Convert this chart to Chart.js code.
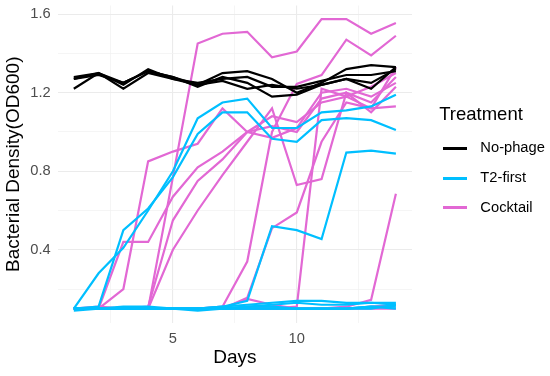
<!DOCTYPE html>
<html>
<head>
<meta charset="utf-8">
<script src="https://cdn.jsdelivr.net/npm/chart.js@4.4.1/dist/chart.umd.min.js"></script>
<style>
  html, body { margin: 0; padding: 0; background: #fff; }
  #wrap { width: 550px; height: 376px; }
</style>
</head>
<body>
<div id="wrap"><canvas id="myChart" width="550" height="376"></canvas></div>
<script>
// Dias da experiência e valores de OD600
const days = [1, 2, 3, 4, 5, 6, 7, 8, 9, 10, 11, 12, 13, 14];

// No-phage
const noPhage1 = [1.27, 1.30, 1.25, 1.31, 1.28, 1.24, 1.30, 1.31, 1.27, 1.20, 1.25, 1.32, 1.34, 1.33];
const noPhage2 = [1.22, 1.30, 1.22, 1.30, 1.27, 1.25, 1.27, 1.28, 1.23, 1.23, 1.26, 1.29, 1.29, 1.31];
const noPhage3 = [1.27, 1.29, 1.25, 1.31, 1.28, 1.23, 1.28, 1.25, 1.18, 1.19, 1.24, 1.27, 1.22, 1.33];
const noPhage4 = [1.28, 1.30, 1.24, 1.32, 1.27, 1.24, 1.26, 1.22, 1.24, 1.22, 1.24, 1.27, 1.25, 1.32];

// T2-first
const t2First1 = [0.10, 0.28, 0.41, 0.60, 0.80, 1.07, 1.15, 1.17, 1.02, 1.02, 1.10, 1.11, 1.13, 1.19];
const t2First2 = [0.10, 0.11, 0.50, 0.61, 0.77, 0.99, 1.10, 1.10, 0.965, 0.95, 1.06, 1.07, 1.06, 1.01];
const t2First3 = [0.10, 0.10, 0.10, 0.10, 0.10, 0.10, 0.11, 0.14, 0.52, 0.50, 0.455, 0.895, 0.905, 0.89];
const t2First4 = [0.10, 0.10, 0.11, 0.11, 0.10, 0.10, 0.11, 0.12, 0.13, 0.14, 0.14, 0.13, 0.13, 0.13];
const t2First5 = [0.10, 0.10, 0.10, 0.10, 0.10, 0.09, 0.10, 0.11, 0.12, 0.13, 0.12, 0.12, 0.13, 0.12];
const t2First6 = [0.10, 0.10, 0.10, 0.10, 0.10, 0.10, 0.10, 0.10, 0.10, 0.10, 0.10, 0.10, 0.11, 0.11];
const t2First7 = [0.09, 0.10, 0.10, 0.10, 0.10, 0.10, 0.10, 0.10, 0.10, 0.10, 0.10, 0.10, 0.10, 0.12];
const t2First8 = [0.10, 0.10, 0.10, 0.10, 0.10, 0.10, 0.10, 0.11, 0.11, 0.10, 0.10, 0.10, 0.11, 0.10];

// Cocktail
const cocktail1 = [0.10, 0.10, 0.10, 0.10, 0.77, 1.45, 1.50, 1.51, 1.38, 1.41, 1.575, 1.575, 1.50, 1.555];
const cocktail2 = [0.10, 0.10, 0.10, 0.10, 0.10, 0.10, 0.11, 0.34, 1.00, 1.245, 1.29, 1.47, 1.39, 1.49];
const cocktail3 = [0.10, 0.10, 0.20, 0.85, 0.90, 0.94, 1.12, 1.00, 0.97, 1.02, 1.20, 1.22, 1.18, 1.25];
const cocktail4 = [0.10, 0.10, 0.44, 0.44, 0.67, 0.82, 0.90, 1.00, 1.08, 1.05, 1.15, 1.18, 1.12, 1.33];
const cocktail5 = [0.10, 0.10, 0.10, 0.10, 0.40, 0.60, 0.78, 0.95, 1.12, 0.73, 0.76, 1.20, 1.10, 1.23];
const cocktail6 = [0.10, 0.10, 0.10, 0.11, 0.55, 0.75, 0.86, 1.00, 1.03, 1.00, 1.17, 1.20, 1.15, 1.28];
const cocktail7 = [0.10, 0.10, 0.10, 0.10, 0.10, 0.10, 0.10, 0.155, 0.51, 0.59, 0.95, 1.15, 1.12, 1.13];
const cocktail8 = [0.10, 0.10, 0.10, 0.10, 0.10, 0.10, 0.10, 0.10, 0.10, 0.11, 1.22, 1.18, 1.23, 1.30];
const cocktail9 = [0.10, 0.10, 0.10, 0.10, 0.10, 0.10, 0.10, 0.10, 0.10, 0.10, 0.10, 0.11, 0.145, 0.685];
const cocktail10 = [0.10, 0.10, 0.10, 0.10, 0.10, 0.10, 0.10, 0.15, 0.12, 0.10, 0.10, 0.10, 0.11, 0.12];
const cocktail11 = [0.10, 0.11, 0.10, 0.10, 0.10, 0.10, 0.10, 0.10, 0.10, 0.10, 0.10, 0.10, 0.10, 0.10];

const treatments = ['No-phage', 'T2-first', 'Cocktail'];
const treatmentColors = ['#000000', '#00BFFF', '#E268D4'];
const runs = [
    [noPhage1, noPhage2, noPhage3, noPhage4],
    [t2First1, t2First2, t2First3, t2First4, t2First5, t2First6, t2First7, t2First8],
    [cocktail1, cocktail2, cocktail3, cocktail4, cocktail5, cocktail6, cocktail7, cocktail8, cocktail9, cocktail10, cocktail11]
];

// Ticks e linhas de grade
const xGridValues = [2.5, 5, 7.5, 10, 12.5];
const xLabelValues = [5, 10];
const yGridValues = [0.2, 0.4, 0.6, 0.8, 1.0, 1.2, 1.4, 1.6];
const yLabelValues = [0.4, 0.8, 1.2, 1.6];

const isLabel = (list, v) => list.some((l) => Math.abs(l - v) < 1e-6);

let datasets = [];
runs.forEach((group, g) => {
    group.forEach((vals) => {
        datasets.push({
            label: treatments[g],
            data: vals.map((v, i) => ({ x: days[i], y: v })),
            borderColor: treatmentColors[g],
            borderWidth: 2.2,
            pointRadius: 0,
            fill: false,
            tension: 0
        });
    });
});

// Traço da legenda (estilo ggplot)
function legendLine(color) {
    const c = document.createElement('canvas');
    c.width = 46;
    c.height = 3;
    const g = c.getContext('2d');
    g.fillStyle = color;
    g.fillRect(16, 0, 24, 3);
    return c;
}

const fontFamily = "'Liberation Sans', Arial, sans-serif";
const ctx = document.getElementById('myChart').getContext('2d');

const myChart = new Chart(ctx, {
    type: 'line',
    data: { datasets: datasets },
    options: {
        responsive: false,
        animation: false,
        devicePixelRatio: 1,
        layout: { padding: { top: 5.5, left: 0, right: 0, bottom: 0 } },
        plugins: {
            tooltip: { enabled: false },
            legend: {
                position: 'right',
                align: 'start',
                maxWidth: 138,
                onClick: null,
                title: {
                    display: true,
                    text: 'Treatment',
                    position: 'center',
                    color: '#000',
                    font: { family: fontFamily, size: 18.5, lineHeight: 1 },
                    padding: { top: 100.25, bottom: 1.7 }
                },
                labels: {
                    usePointStyle: true,
                    pointStyleWidth: 46,
                    padding: 15,
                    color: '#000',
                    font: { family: fontFamily, size: 14.7 },
                    generateLabels: () => treatments.map((t, i) => ({
                        text: t,
                        fillStyle: treatmentColors[i],
                        strokeStyle: treatmentColors[i],
                        lineWidth: 0,
                        pointStyle: legendLine(treatmentColors[i]),
                        hidden: false,
                        datasetIndex: i
                    }))
                }
            }
        },
        scales: {
            x: {
                type: 'linear',
                min: 0.35,
                max: 14.65,
                border: { display: false },
                afterBuildTicks: (scale) => { scale.ticks = xGridValues.map((v) => ({ value: v })); },
                afterFit: (scale) => { scale.height = 53; scale.paddingLeft = 0; scale.paddingRight = 0; },
                grid: {
                    drawTicks: false,
                    color: (c) => isLabel(xLabelValues, c.tick.value) ? '#ebebeb' : '#f2f2f2',
                    lineWidth: (c) => isLabel(xLabelValues, c.tick.value) ? 1.1 : 0.8
                },
                ticks: {
                    autoSkip: false,
                    maxRotation: 0,
                    padding: 7,
                    color: '#4d4d4d',
                    font: { family: fontFamily, size: 14.7 },
                    callback: (value) => isLabel(xLabelValues, value) ? String(value) : ''
                },
                title: {
                    display: true,
                    text: 'Days',
                    color: '#000',
                    font: { family: fontFamily, size: 19, lineHeight: 1 },
                    padding: { top: 0, bottom: 8.5 }
                }
            },
            y: {
                type: 'linear',
                min: 0.027,
                max: 1.644,
                border: { display: false },
                afterBuildTicks: (scale) => { scale.ticks = yGridValues.map((v) => ({ value: v })); },
                afterFit: (scale) => { scale.width = 57.7; scale.paddingTop = 0; scale.paddingBottom = 0; },
                grid: {
                    drawTicks: false,
                    color: (c) => isLabel(yLabelValues, c.tick.value) ? '#ebebeb' : '#f2f2f2',
                    lineWidth: (c) => isLabel(yLabelValues, c.tick.value) ? 1.1 : 0.8
                },
                ticks: {
                    autoSkip: false,
                    padding: 7,
                    color: '#4d4d4d',
                    font: { family: fontFamily, size: 14.7 },
                    callback: (value) => isLabel(yLabelValues, value) ? value.toFixed(1) : ''
                },
                title: {
                    display: true,
                    text: 'Bacterial Density(OD600)',
                    color: '#000',
                    font: { family: fontFamily, size: 19, lineHeight: 1 },
                    padding: { top: 4, bottom: 0 }
                }
            }
        }
    }
});
</script>
</body>
</html>
